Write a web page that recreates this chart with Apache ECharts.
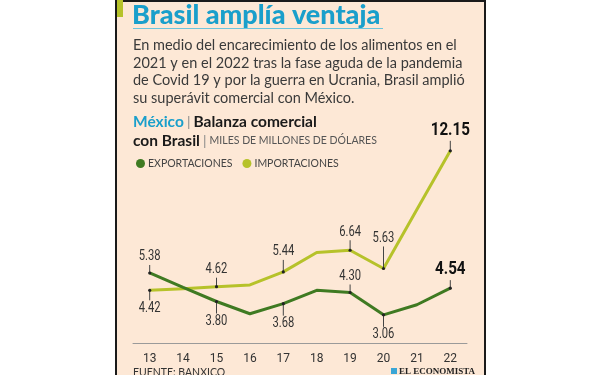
<!DOCTYPE html>
<html>
<head>
<meta charset="utf-8">
<title>Brasil amplía ventaja</title>
<script src="https://cdn.jsdelivr.net/npm/echarts@6/dist/echarts.min.js"></script>
<style>
  html, body { margin: 0; padding: 0; background: #fff; }
  #main { width: 600px; height: 375px; }
</style>
</head>
<body>
<div id="main"></div>
<script type="text/javascript">
// datos: balanza comercial Mexico-Brasil, miles de millones de dolares
var years = ['13', '14', '15', '16', '17', '18', '19', '20', '21', '22'];
var exportaciones = [5.38, 4.58, 3.80, 3.12, 3.68, 4.42, 4.30, 3.06, 3.62, 4.54];
var importaciones = [4.42, 4.50, 4.62, 4.72, 5.44, 6.52, 6.64, 5.63, 8.90, 12.15];
// puntos con etiqueta: [indice, direccion (1 arriba, -1 abajo), largo de guia, destacado]
var expEtiquetas = [[0, 1, 8, 0], [2, -1, 12, 0], [4, -1, 12, 0], [6, 1, 8, 0], [7, -1, 12, 0], [9, 1, 8, 1]];
var impEtiquetas = [[0, -1, 10, 0], [2, 1, 9, 0], [4, 1, 12, 0], [6, 1, 10, 0], [7, 1, 22, 0], [9, 1, 10, 1]];

var VERDE = '#3f7a22';
var AMARILLO = '#b6c22a';
var CIAN = '#1a9fcb';
var NUM_FONT = 'Roboto, sans-serif';

function etiquetasData(serie, cfg) {
  return cfg.map(function (c) {
    return [years[c[0]], serie[c[0]], c[1], c[2], c[3]];
  });
}

function renderEtiqueta(params, api) {
  var p = api.coord([api.value(0), api.value(1)]);
  var dir = api.value(2);
  var len = api.value(3);
  var big = api.value(4) === 1;
  var y2 = p[1] - dir * len;
  return {
    type: 'group',
    children: [
      { type: 'line', shape: { x1: p[0], y1: p[1], x2: p[0], y2: y2 }, style: { stroke: '#444', lineWidth: 1 } },
      { type: 'circle', shape: { cx: p[0], cy: p[1], r: 1.6 }, style: { fill: '#222' } },
      {
        type: 'text', x: p[0], y: y2 - dir * 1, scaleX: 0.8,
        style: {
          text: api.value(1).toFixed(2),
          align: 'center',
          verticalAlign: dir > 0 ? 'bottom' : 'top',
          fontFamily: NUM_FONT,
          fontSize: big ? 19 : 14,
          fontWeight: big ? 'bold' : 'normal',
          fill: big ? '#111' : '#333'
        }
      }
    ]
  };
}

var chart = echarts.init(document.getElementById('main'), null, { renderer: 'canvas' });

var option = {
  backgroundColor: '#ffffff',
  animation: false,
  graphic: [
    // panel
    { type: 'rect', left: 115, top: 0, shape: { width: 369, height: 375 }, style: { fill: '#fde8d6', stroke: '#1a1a1a', lineWidth: 2 }, z: -10 },
    { type: 'rect', left: 117, top: 0, shape: { width: 6, height: 17 }, style: { fill: AMARILLO } },
    {
      type: 'text', left: 132, top: 2,
      style: { text: 'Brasil amplía ventaja', fontFamily: 'Lato, sans-serif', fontSize: 27, fontWeight: 900, fill: CIAN }
    },
    { type: 'line', shape: { x1: 133, y1: 28.5, x2: 383, y2: 28.5 }, style: { stroke: '#6cc4dd', lineWidth: 1 } },
    {
      type: 'text', left: 133, top: 37,
      style: {
        text: 'En medio del encarecimiento de los alimentos en el\n2021 y en el 2022 tras la fase aguda de la pandemia\nde Covid 19 y por la guerra en Ucrania, Brasil amplió\nsu superávit comercial con México.',
        fontFamily: 'Lato, sans-serif', fontSize: 14.5, lineHeight: 17.5, fill: '#3a3a3a'
      }
    },
    {
      type: 'text', left: 133, top: 114,
      style: {
        text: '{c|México} {s||} {b|Balanza comercial}\n{b|con Brasil} {s||} {u|MILES DE MILLONES DE DÓLARES}',
        fontFamily: 'Lato, sans-serif',
        rich: {
          c: { fontFamily: 'Lato, sans-serif', fontSize: 15.5, fontWeight: 'bold', fill: CIAN, lineHeight: 19 },
          b: { fontFamily: 'Lato, sans-serif', fontSize: 15.5, fontWeight: 'bold', fill: '#1a1a1a', lineHeight: 19 },
          s: { fontFamily: 'Lato, sans-serif', fontSize: 14, fill: '#888', lineHeight: 19 },
          u: { fontFamily: 'Lato, sans-serif', fontSize: 10.5, fill: '#555', lineHeight: 19 }
        }
      }
    },
    {
      type: 'text', left: 133, top: 367,
      style: { text: 'FUENTE: BANXICO', fontFamily: 'Lato, sans-serif', fontSize: 10.5, fill: '#333' }
    },
    { type: 'rect', left: 391, top: 368, shape: { width: 6, height: 6 }, style: { fill: '#3aa6d6' } },
    {
      type: 'text', left: 399, top: 367,
      style: { text: 'EL ECONOMISTA', fontFamily: '"Liberation Serif", serif', fontSize: 9, fontWeight: 'bold', fill: '#222' }
    }
  ],
  legend: {
    left: 131,
    top: 153,
    icon: 'circle',
    itemWidth: 9,
    itemHeight: 9,
    itemGap: 10,
    textStyle: { fontFamily: 'Lato, sans-serif', fontSize: 10.5, color: '#444', padding: [1, 0, 0, -2] },
    data: ['EXPORTACIONES', 'IMPORTACIONES']
  },
  grid: { left: 133, right: 133, top: 135.5, bottom: 32 },
  xAxis: {
    type: 'category',
    data: years,
    boundaryGap: true,
    axisLine: { lineStyle: { color: '#9a9a9a', width: 1 } },
    axisTick: { show: false },
    axisLabel: { color: '#333', fontFamily: NUM_FONT, fontSize: 12, margin: 10 }
  },
  yAxis: {
    type: 'value',
    min: 1.5,
    max: 13,
    show: false,
    splitLine: { show: false }
  },
  series: [
    {
      name: 'EXPORTACIONES', type: 'line', data: exportaciones,
      showSymbol: false, lineStyle: { color: VERDE, width: 3 }, itemStyle: { color: VERDE }, z: 3
    },
    {
      name: 'IMPORTACIONES', type: 'line', data: importaciones,
      showSymbol: false, lineStyle: { color: AMARILLO, width: 3 }, itemStyle: { color: AMARILLO }, z: 2
    },
    {
      type: 'custom', data: etiquetasData(exportaciones, expEtiquetas),
      encode: { x: 0, y: 1 }, renderItem: renderEtiqueta, z: 5, silent: true
    },
    {
      type: 'custom', data: etiquetasData(importaciones, impEtiquetas),
      encode: { x: 0, y: 1 }, renderItem: renderEtiqueta, z: 5, silent: true
    }
  ]
};

chart.setOption(option);
</script>
</body>
</html>
